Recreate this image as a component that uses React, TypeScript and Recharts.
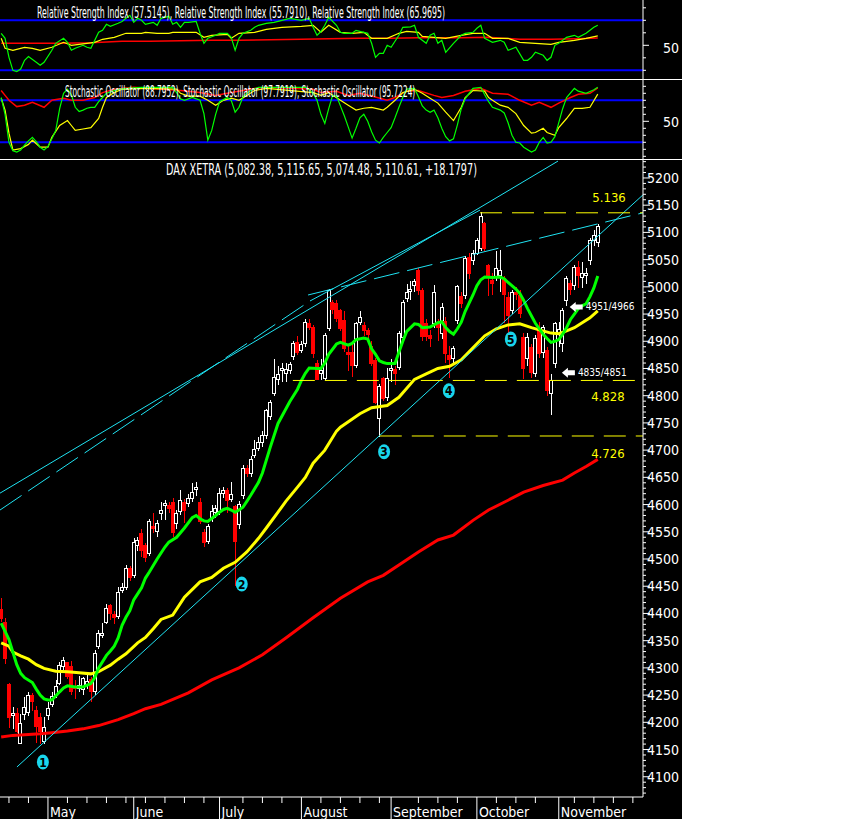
import React, { useLayoutEffect, useRef, useState } from "react";
import {
  Bar,
  ComposedChart,
  Line,
  ReferenceDot,
  ReferenceLine,
  XAxis,
  YAxis,
} from "recharts";

const FONT = "'Liberation Sans Narrow', 'DejaVu Sans Condensed', 'Liberation Sans', sans-serif";
const CYAN = "#1fe3f2";
const GREEN = "#00ff00";
const YELLOW = "#ffff00";
const RED = "#ff0000";
const BLUE = "#0000ff";

// daily bars, index 0 = mid April ... 153 = mid November: [open, high, low, close]
const ohlc: [number, number, number, number][] = [
  [4408, 4428, 4385, 4390], [4384, 4392, 4308, 4318], [4269, 4272, 4190, 4208], [4212, 4228, 4188, 4216],
  [4217, 4226, 4181, 4184], [4162, 4215, 4160, 4197], [4214, 4246, 4205, 4228], [4218, 4256, 4212, 4250],
  [4250, 4254, 4220, 4238], [4222, 4230, 4162, 4192], [4208, 4218, 4160, 4183], [4165, 4210, 4160, 4190],
  [4212, 4238, 4205, 4226], [4232, 4256, 4228, 4248], [4250, 4278, 4245, 4266], [4272, 4310, 4268, 4304],
  [4302, 4320, 4296, 4314], [4310, 4311, 4280, 4285], [4303, 4312, 4250, 4257], [4266, 4278, 4243, 4262],
  [4262, 4285, 4255, 4268], [4260, 4284, 4250, 4280], [4270, 4290, 4262, 4275], [4278, 4283, 4238, 4256],
  [4256, 4333, 4250, 4327], [4340, 4370, 4335, 4364], [4360, 4382, 4355, 4364], [4384, 4417, 4380, 4410],
  [4415, 4418, 4388, 4400], [4398, 4405, 4380, 4393], [4394, 4448, 4390, 4438], [4442, 4456, 4437, 4447],
  [4447, 4489, 4443, 4483], [4482, 4488, 4460, 4466], [4470, 4538, 4466, 4531], [4524, 4540, 4515, 4534],
  [4547, 4555, 4503, 4516], [4525, 4530, 4494, 4502], [4511, 4573, 4505, 4569], [4560, 4584, 4547, 4556],
  [4551, 4571, 4540, 4565], [4584, 4604, 4571, 4590], [4598, 4608, 4572, 4602], [4599, 4605, 4585, 4593],
  [4604, 4612, 4540, 4549], [4566, 4590, 4555, 4584], [4588, 4626, 4580, 4608], [4604, 4610, 4566, 4590],
  [4602, 4620, 4595, 4612], [4612, 4639, 4605, 4623], [4628, 4642, 4615, 4632], [4604, 4612, 4565, 4568],
  [4549, 4555, 4522, 4530], [4533, 4565, 4528, 4560], [4574, 4599, 4568, 4588], [4585, 4600, 4576, 4592],
  [4588, 4630, 4580, 4621], [4621, 4632, 4612, 4625], [4625, 4630, 4585, 4607], [4610, 4641, 4605, 4619],
  [4597, 4600, 4450, 4533], [4564, 4606, 4555, 4601], [4617, 4672, 4610, 4666], [4666, 4672, 4650, 4657],
  [4657, 4690, 4650, 4683], [4690, 4718, 4685, 4701], [4703, 4725, 4698, 4714], [4714, 4735, 4705, 4727],
  [4727, 4775, 4720, 4773], [4762, 4792, 4755, 4788], [4804, 4868, 4800, 4833], [4829, 4855, 4819, 4839],
  [4846, 4860, 4825, 4850], [4840, 4860, 4826, 4848], [4846, 4862, 4840, 4857], [4872, 4900, 4865, 4896],
  [4898, 4910, 4875, 4880], [4883, 4900, 4878, 4894], [4896, 4940, 4890, 4934], [4932, 4940, 4920, 4925],
  [4925, 4930, 4870, 4877], [4859, 4865, 4828, 4830], [4840, 4868, 4828, 4846], [4832, 4915, 4828, 4910],
  [4923, 4996, 4918, 4993], [4972, 4975, 4950, 4958], [4970, 4975, 4935, 4942], [4956, 4960, 4918, 4923],
  [4938, 4956, 4880, 4887], [4879, 4893, 4846, 4876], [4880, 4900, 4835, 4856], [4855, 4935, 4850, 4932],
  [4934, 4955, 4930, 4943], [4929, 4935, 4910, 4920], [4920, 4925, 4905, 4912], [4890, 4900, 4855, 4860],
  [4865, 4870, 4785, 4788], [4758, 4822, 4725, 4817], [4831, 4835, 4790, 4795], [4797, 4850, 4790, 4831],
  [4846, 4868, 4825, 4850], [4848, 4855, 4820, 4840], [4852, 4918, 4848, 4914], [4907, 4975, 4900, 4971],
  [4978, 5005, 4972, 4990], [4991, 5010, 4975, 4995], [5002, 5015, 4990, 5009], [5030, 5035, 4985, 4994],
  [4993, 4997, 4900, 4908], [4932, 4940, 4900, 4908], [4910, 4920, 4890, 4905], [4932, 5003, 4925, 4989],
  [4930, 4940, 4900, 4925], [4914, 4971, 4905, 4962], [4936, 4945, 4860, 4877], [4874, 4892, 4832, 4866],
  [4868, 4892, 4860, 4886], [4938, 5003, 4932, 5000], [4983, 4990, 4962, 4970], [4984, 5057, 4978, 5052],
  [5053, 5062, 5015, 5024], [5048, 5068, 5040, 5061], [5062, 5090, 5058, 5085], [5070, 5138, 5065, 5130],
  [5116, 5120, 5065, 5070], [5039, 5042, 4983, 5017], [5012, 5025, 4985, 5007], [5017, 5065, 5010, 5033],
  [5020, 5068, 4990, 5030], [5015, 5020, 4934, 4985], [4980, 4990, 4915, 4947], [4956, 4995, 4950, 4989],
  [4990, 5000, 4975, 4985], [4984, 4995, 4942, 4951], [4907, 4915, 4830, 4850], [4868, 4915, 4855, 4907],
  [4888, 4895, 4832, 4843], [4841, 4912, 4835, 4905], [4920, 4935, 4870, 4877], [4879, 4930, 4870, 4925],
  [4883, 4890, 4800, 4810], [4804, 4840, 4764, 4828], [4859, 4935, 4850, 4932], [4915, 4935, 4890, 4922],
  [4896, 4962, 4880, 4956], [4975, 5020, 4965, 5015], [5007, 5012, 4985, 4996], [5002, 5040, 4995, 5035],
  [5035, 5048, 4998, 5020], [5017, 5045, 4997, 5024], [5020, 5035, 5005, 5025], [5048, 5090, 5040, 5085],
  [5085, 5105, 5075, 5094], [5082, 5116, 5074, 5111],
];

// moving averages: [bar index, value]
const maFast: [number, number][] = [
  [0, 4382], [2, 4352], [4, 4306], [5, 4290], [6, 4282], [8, 4273], [9, 4261], [10, 4250], [11, 4243], [12, 4241],
  [13, 4241], [15, 4256], [16, 4263], [17, 4267], [19, 4265], [21, 4265], [23, 4271], [24, 4282], [25, 4300], [27, 4323],
  [28, 4331], [29, 4340], [30, 4355], [31, 4378], [32, 4393], [33, 4405], [34, 4425], [35, 4436], [36, 4447], [37, 4465],
  [38, 4476], [40, 4500], [42, 4522], [43, 4531], [45, 4540], [47, 4557], [49, 4576], [50, 4580], [51, 4574], [52, 4570],
  [53, 4569], [55, 4580], [56, 4586], [57, 4591], [58, 4593], [59, 4590], [60, 4586], [61, 4590], [62, 4595], [63, 4606],
  [64, 4617], [66, 4641], [67, 4658], [69, 4705], [71, 4749], [74, 4789], [76, 4812], [77, 4828], [78, 4841], [79, 4851],
  [81, 4850], [82, 4850], [83, 4860], [84, 4876], [86, 4895], [87, 4898], [89, 4893], [90, 4896], [91, 4903], [93, 4906],
  [94, 4904], [95, 4886], [96, 4876], [97, 4864], [98, 4861], [99, 4859], [101, 4859], [102, 4880], [103, 4900], [104, 4918],
  [106, 4932], [107, 4931], [108, 4925], [110, 4926], [112, 4934], [113, 4936], [114, 4925], [115, 4918], [116, 4913], [117, 4923],
  [118, 4935], [119, 4955], [120, 4970], [121, 4985], [122, 5002], [123, 5013], [124, 5018], [126, 5017], [128, 5018], [129, 5015],
  [130, 5008], [132, 4996], [133, 4988], [134, 4975], [135, 4960], [137, 4933], [138, 4923], [139, 4913], [140, 4905], [141, 4898],
  [142, 4900], [143, 4903], [144, 4913], [145, 4925], [146, 4940], [147, 4950], [148, 4960], [149, 4965], [150, 4969], [151, 4982],
  [152, 4998], [153, 5020],
];

const maMid: [number, number][] = [
  [0, 4346], [2, 4340], [3, 4329], [5, 4322], [7, 4316], [9, 4306], [11, 4299], [14, 4294], [17, 4293], [20, 4291],
  [23, 4289], [25, 4293], [28, 4305], [30, 4316], [32, 4326], [35, 4346], [37, 4356], [39, 4372], [41, 4389], [44, 4397],
  [47, 4430], [51, 4458], [54, 4466], [57, 4483], [60, 4494], [63, 4513], [66, 4538], [68, 4557], [71, 4586], [73, 4606],
  [76, 4632], [78, 4650], [80, 4676], [83, 4700], [86, 4735], [87, 4742], [92, 4767], [95, 4778], [99, 4782], [102, 4797],
  [106, 4830], [109, 4840], [112, 4850], [115, 4854], [118, 4866], [121, 4888], [124, 4910], [127, 4923], [130, 4930], [133, 4932],
  [136, 4925], [138, 4921], [141, 4915], [143, 4914], [145, 4919], [147, 4925], [149, 4934], [151, 4943], [153, 4956],
];

const maSlow: [number, number][] = [
  [0, 4173], [3, 4176], [10, 4179], [13, 4181], [17, 4184], [21, 4188], [25, 4194], [30, 4205], [34, 4216], [37, 4225],
  [41, 4233], [48, 4254], [54, 4278], [61, 4300], [67, 4324], [73, 4355], [80, 4392], [87, 4428], [94, 4458], [98, 4470],
  [102, 4489], [107, 4513], [112, 4535], [116, 4544], [121, 4571], [125, 4590], [130, 4608], [134, 4623], [139, 4635], [144, 4645],
  [147, 4658], [150, 4670], [153, 4683],
];

const rsiFast: [number, number][] = [
  [0, 59.6], [1, 55.6], [2, 40.4], [3, 30], [4, 29], [5, 31], [6, 38], [7, 41], [9, 36.4], [10, 34], [11, 36.4], [13, 46],
  [14, 51.6], [16, 55.6], [17, 52.4], [18, 46], [19, 47.6], [21, 50], [22, 48.4], [23, 47.6], [25, 60.4], [26, 62], [27, 66.8],
  [28, 65.2], [30, 67.6], [31, 69], [32, 71.6], [33, 74], [34, 68.4], [35, 71.6], [36, 70], [37, 66.8], [39, 68.4], [40, 66],
  [41, 71.6], [42, 72.4], [43, 73.2], [44, 66.8], [45, 68.4], [46, 64.4], [47, 68.4], [48, 68.4], [50, 69.2], [51, 59.6],
  [52, 51.6], [53, 55.6], [55, 58], [56, 59.6], [58, 59.6], [59, 56.4], [60, 46], [61, 55.6], [62, 59.6], [64, 62], [65, 64.4],
  [66, 66], [68, 67.6], [70, 68.4], [72, 70], [74, 71.6], [77, 70], [79, 71.6], [80, 64.4], [81, 58], [82, 61], [83, 66],
  [84, 72.4], [86, 66], [87, 60.4], [88, 59.6], [90, 59.6], [91, 62], [93, 60.4], [94, 59.6], [95, 51.6], [96, 40.4], [97, 43.6],
  [98, 43.6], [99, 50], [100, 48.4], [102, 58], [103, 64.4], [105, 64.8], [106, 66], [107, 56.4], [109, 51.6], [110, 58],
  [111, 59.6], [112, 51.6], [113, 54], [114, 44.4], [116, 51.6], [118, 58], [119, 59.6], [121, 60.4], [122, 63.6], [123, 66],
  [124, 55.6], [126, 52.4], [128, 54], [129, 52.4], [130, 46], [132, 48.4], [134, 38], [135, 38], [136, 40.4], [137, 44.4],
  [139, 42], [140, 38], [141, 40.4], [142, 50], [143, 51.6], [145, 56.4], [147, 58], [148, 56.4], [150, 59.6], [152, 64.4], [153, 66],
];

const rsiMid: [number, number][] = [
  [0, 55.6], [1, 47.6], [3, 46], [6, 48.4], [8, 47.6], [10, 46], [13, 48.4], [16, 52.4], [18, 50], [22, 51.6], [24, 52.4],
  [26, 54.8], [29, 56.4], [32, 59.6], [36, 59.6], [37, 60.4], [40, 59.6], [43, 59.6], [44, 60.4], [48, 60.4], [50, 60.4],
  [52, 56.4], [54, 58], [58, 58.8], [59, 55.6], [61, 59.6], [65, 60.4], [68, 62.8], [72, 64.4], [77, 65.2], [80, 66], [82, 60.4],
  [84, 66], [87, 60.4], [90, 59.6], [93, 60.4], [95, 55.6], [99, 55.6], [102, 59.6], [104, 61.2], [107, 60.4], [108, 57.2],
  [111, 56.4], [114, 55.6], [118, 58], [121, 59.6], [124, 59.6], [126, 55.6], [130, 55.6], [133, 52.4], [137, 51.6], [141, 50.8],
  [143, 52.4], [147, 54], [150, 55.6], [153, 57.5],
];

const rsiSlow: [number, number][] = [
  [0, 51.6], [8, 51.6], [15, 51.6], [23, 52], [31, 53.2], [38, 53.2], [46, 53.6], [54, 54], [61, 54], [69, 54.4], [77, 54.8],
  [84, 55.2], [92, 55.6], [100, 55.6], [107, 56], [118, 56], [125, 56.4], [133, 54.8], [141, 54.8], [148, 55.2], [153, 55.8],
];

const stochFast: [number, number][] = [
  [0, 84], [1, 60], [2, 20], [3, 8], [4, 6], [5, 9], [6, 16], [7, 22], [8, 27], [9, 21], [10, 13], [11, 9], [12, 14], [13, 25],
  [14, 37], [15, 68], [16, 90], [17, 96], [18, 88], [19, 70], [20, 64], [21, 66], [22, 68.6], [23, 70], [24, 70], [25, 78],
  [26, 84], [27, 90], [28, 92], [30, 95.7], [33, 97.5], [36, 98.6], [44, 98.6], [45, 91], [46, 82], [47, 80], [49, 84], [51, 80],
  [52, 61], [53, 23], [54, 37], [55, 60], [56, 78], [57, 81], [58, 84], [59, 80], [60, 63], [61, 70], [62, 85], [63, 90],
  [64, 94], [66, 98.6], [78, 98.6], [79, 95], [80, 90], [81, 80], [82, 60], [83, 47], [84, 68], [85, 87], [86, 86], [87, 72],
  [88, 58], [89, 42], [90, 26], [91, 40], [92, 55], [93, 60], [94, 50], [95, 35], [96, 23], [97, 19], [98, 27], [99, 34],
  [100, 41], [101, 55], [102, 70], [103, 84], [104, 96], [106, 97], [107, 85], [108, 72], [109, 66], [110, 63], [111, 66],
  [112, 55], [113, 40], [114, 28], [115, 22], [116, 25], [117, 45], [118, 68], [119, 82], [120, 90], [121, 97], [123, 98.6],
  [124, 88], [125, 78], [126, 70], [128, 66], [129, 62], [130, 48], [131, 30], [132, 20], [133, 19], [134, 13], [136, 6],
  [137, 9], [138, 20], [139, 27], [140, 19], [141, 20], [142, 28], [143, 48], [144, 68], [145, 84], [147, 97], [148, 93],
  [150, 90], [152, 95], [153, 98.6],
];

const stochMid: [number, number][] = [
  [0, 83], [1, 66], [2, 33], [3, 9], [5, 11], [7, 17], [8, 23], [10, 13], [12, 13], [13, 27], [15, 44], [17, 51], [18, 44],
  [19, 37], [21, 39], [23, 41], [25, 54], [26, 70], [27, 84], [29, 91], [31, 95.7], [36, 97], [45, 96], [46, 90], [48, 86],
  [51, 86], [53, 80], [55, 73], [57, 80], [59, 83], [61, 80], [63, 87], [65, 94], [68, 97], [80, 91], [82, 87], [84, 91],
  [87, 80], [89, 73], [91, 66], [93, 68.6], [95, 70], [98, 66], [99, 70], [101, 80], [103, 91], [106, 95.7], [108, 90],
  [110, 83], [112, 76], [114, 63], [116, 51], [118, 70], [119, 84], [121, 94], [124, 93], [125, 84], [126, 80], [128, 73],
  [130, 70], [132, 61], [134, 44], [136, 33], [137, 34], [139, 40], [140, 34], [142, 30], [143, 41], [145, 54], [147, 68.6],
  [149, 68.6], [151, 70], [153, 88.8],
];

const stochSlow: [number, number][] = [
  [0, 94], [1, 87], [2, 80], [4, 71], [6, 73], [8, 77], [11, 70], [13, 80], [16, 83], [18, 80], [21, 80], [24, 84], [26, 91],
  [29, 95.7], [34, 98.6], [46, 94], [51, 91], [55, 87], [59, 91], [65, 97], [68, 98.6], [80, 95.7], [82, 91], [86, 93], [89, 87],
  [92, 90], [95, 86], [99, 80], [101, 84], [104, 93], [107, 94], [111, 87], [113, 84], [116, 87], [119, 93], [123, 97], [126, 90],
  [130, 88.6], [133, 80], [136, 73], [138, 77], [141, 70], [143, 76], [146, 84], [148, 88.6], [151, 90], [153, 97.8],
];

// panel titles: [text, left x, baseline y, width]
const titles: [string, number, number, number][] = [
  ["Relative Strength Index (57.5145), Relative Strength Index (55.7910), Relative Strength Index (65.9695)", 37, 18, 408],
  ["Stochastic Oscillator (88.7952), Stochastic Oscillator (97.7919), Stochastic Oscillator (95.7224)", 65, 97, 350],
  ["DAX XETRA (5,082.38, 5,115.65, 5,074.48, 5,110.61, +18.1797)", 166, 175, 311],
];

// x axis
const monthStarts = [12, 34, 56, 77, 100, 122, 143];
const monthNames = ["May", "June", "July", "August", "September", "October", "November"];
const weekTicks = [2, 7, 17, 22, 27, 32, 37, 42, 47, 52, 62, 67, 72, 82, 87, 92, 97, 107, 112, 117, 127, 132, 137, 147, 152, 157, 162];

// drawn annotations: [bar index, price]
const trendLines: { from: [number, number]; to: [number, number]; dashed?: boolean }[] = [
  { from: [-0.3, 4621], to: [142.8, 5231] },
  { from: [-0.3, 4590], to: [79.2, 4974], dashed: true },
  { from: [79.2, 4974], to: [122.8, 5141] },
  { from: [78.7, 4985], to: [164.6, 5136], dashed: true },
  { from: [4.05, 4118], to: [164.6, 5169] },
];
const levels: { from: number; price: number; label: string }[] = [
  { from: 122.8, price: 5136, label: "5.136" },
  { from: 74.8, price: 4828, label: "4.828" },
  { from: 97.1, price: 4726, label: "4.726" },
];
const levelLabelPos: [number, number][] = [[155.9, 5165], [155.6, 4799], [155.6, 4695]];
const waves: { i: number; p: number; n: string }[] = [
  { i: 10.7, p: 4127, n: "1" },
  { i: 61.7, p: 4454, n: "2" },
  { i: 98.2, p: 4697, n: "3" },
  { i: 114.8, p: 4809, n: "4" },
  { i: 130.7, p: 4904, n: "5" },
];
const arrows: { i: number; p: number; text: string }[] = [
  { i: 145.8, p: 4963, text: "4951/4966" },
  { i: 143.8, p: 4842, text: "4835/4851" },
];

const X_DOMAIN: [number, number] = [-0.3, 164.6];
const BARS = ohlc.length;

function buildRows(series: Record<string, [number, number][]>) {
  const rows: Record<string, number>[] = [];
  for (let i = 0; i < BARS; i++) rows.push({ i });
  Object.entries(series).forEach(([key, pts]) => {
    pts.forEach(([i, v]) => {
      rows[i][key] = v;
    });
  });
  return rows;
}

const mainRows = buildRows({ fast: maFast, mid: maMid, slow: maSlow }).map((r, i) => ({
  ...r,
  o: ohlc[i][0],
  h: ohlc[i][1],
  l: ohlc[i][2],
  c: ohlc[i][3],
}));
const rsiRows = buildRows({ fast: rsiFast, mid: rsiMid, slow: rsiSlow });
const stochRows = buildRows({ fast: stochFast, mid: stochMid, slow: stochSlow });

const priceTicks: number[] = [];
for (let v = 4070; v <= 5230; v += 10) priceTicks.push(v);
const xTicks = [...monthStarts, ...weekTicks].sort((a, b) => a - b);

function Candle(props: any) {
  const { x, y, width, height, payload } = props;
  if (!payload) return null;
  const { o, h, l, c } = payload;
  const top = Math.min(y, y + height);
  const span = Math.abs(height);
  const k = h > l ? span / (h - l) : 0;
  const py = (v: number) => top + (h - v) * k;
  const cx = Math.round(x + width / 2) + 0.5;
  const up = c >= o;
  const col = up ? "#ffffff" : RED;
  const bt = py(Math.max(o, c));
  const bb = py(Math.min(o, c));
  return (
    <g shapeRendering="crispEdges">
      <line x1={cx} x2={cx} y1={py(h)} y2={py(l)} stroke={col} strokeWidth={1} />
      <rect
        x={cx - 2}
        y={bt}
        width={3}
        height={Math.max(bb - bt, 1)}
        fill={up ? "#000000" : RED}
        stroke={col}
        strokeWidth={1}
      />
    </g>
  );
}

function makeValueTick(majorValue: (v: number) => boolean, labelDy: number, majorLen: number) {
  return function ValueTick(props: any) {
    const { x, y, payload } = props;
    const v = payload.value;
    const major = majorValue(v);
    return (
      <g>
        <line x1={x} x2={x + (major ? majorLen : 3)} y1={y} y2={y} stroke="#ffffff" strokeWidth={1} />
        {major && (
          <text x={679} y={y + labelDy} textAnchor="end" fill="#ffffff" fontSize={14} fontFamily={FONT}>
            {v}
          </text>
        )}
      </g>
    );
  };
}

const PriceTick = makeValueTick((v) => v % 50 === 0 && v >= 4100 && v <= 5200, 5, 7);
const RsiTick = makeValueTick((v) => v === 50, 8, 6);
const StochTick = makeValueTick((v) => v === 50, 6, 6);

function TimeTick(props: any) {
  const { x, y, payload } = props;
  const m = monthStarts.indexOf(payload.value);
  if (m >= 0) {
    return (
      <g>
        <line x1={x} x2={x} y1={y} y2={y + 22} stroke="#ffffff" strokeWidth={1} />
        <text x={x + 2} y={y + 20} fill="#ffffff" fontSize={14} fontFamily={FONT}>
          {monthNames[m]}
        </text>
      </g>
    );
  }
  return <line x1={x} x2={x} y1={y} y2={y + 6} stroke="#ffffff" strokeWidth={1} />;
}

function Badge(props: any) {
  const { cx, cy, n } = props;
  return (
    <g>
      <ellipse cx={cx} cy={cy} rx={6} ry={7.5} fill="#19d6ec" />
      <text x={cx} y={cy + 4.5} textAnchor="middle" fontSize={12} fontWeight="bold" fill="#000000" fontFamily="'DejaVu Sans Condensed', 'DejaVu Sans'">
        {n}
      </text>
    </g>
  );
}

function Arrow(props: any) {
  const { cx, cy, text } = props;
  const pts = [
    [cx, cy],
    [cx + 6, cy - 5],
    [cx + 6, cy - 2.5],
    [cx + 13, cy - 2.5],
    [cx + 13, cy + 2.5],
    [cx + 6, cy + 2.5],
    [cx + 6, cy + 5],
  ]
    .map((p) => p.join(","))
    .join(" ");
  return (
    <g>
      <polygon points={pts} fill="#ffffff" />
      <text x={cx + 16} y={cy + 3.5} fontSize={10} fill="#ffffff" fontFamily={FONT}>
        {text}
      </text>
    </g>
  );
}

function LevelLabel(props: any) {
  const { cx, cy, text } = props;
  return (
    <text x={cx} y={cy + 5} textAnchor="middle" fontSize={13} fill={YELLOW} fontFamily={FONT}>
      {text}
    </text>
  );
}

// squeezes a title horizontally to the width it has in the picture
function FitText({ text, x, y, width }: { text: string; x: number; y: number; width: number }) {
  const ref = useRef<SVGTextElement>(null);
  const [sx, setSx] = useState(0.7);
  useLayoutEffect(() => {
    const len = ref.current ? ref.current.getComputedTextLength() : 0;
    if (len > 0) setSx(width / len);
  }, [text, width]);
  return (
    <g transform={`translate(${x},${y}) scale(${sx},1)`}>
      <text ref={ref} x={0} y={0} fontSize={15} fill="#ffffff" fontFamily={FONT}>
        {text}
      </text>
    </g>
  );
}

function oscLines() {
  return [
    <Line key="s" dataKey="slow" stroke={RED} strokeWidth={1.5} dot={false} activeDot={false} connectNulls isAnimationActive={false} />,
    <Line key="m" dataKey="mid" stroke={YELLOW} strokeWidth={1.2} dot={false} activeDot={false} connectNulls isAnimationActive={false} />,
    <Line key="f" dataKey="fast" stroke={GREEN} strokeWidth={1.2} dot={false} activeDot={false} connectNulls isAnimationActive={false} />,
  ];
}

export default function App() {
  const margin = { top: 0, right: 0, bottom: 0, left: 0 };
  return (
    <div style={{ position: "absolute", left: 0, top: 0, width: 866, height: 819, background: "#ffffff", overflow: "hidden" }}>
      <div style={{ position: "absolute", left: 0, top: 0, width: 682, height: 819, background: "#000000" }} />

      <div style={{ position: "absolute", left: 0, top: 0 }}>
        <ComposedChart width={682} height={79} data={rsiRows} margin={margin}>
          <XAxis type="number" dataKey="i" domain={X_DOMAIN} allowDataOverflow hide />
          <YAxis
            orientation="right"
            width={39}
            domain={[23.04, 86.24]}
            allowDataOverflow
            ticks={[30, 40, 50, 60, 70, 80]}
            interval={0}
            tick={<RsiTick />}
            tickLine={false}
            tickSize={0}
            tickMargin={0}
            axisLine={{ stroke: "#ffffff" }}
          />
          <ReferenceLine y={70} stroke={BLUE} strokeWidth={2} />
          <ReferenceLine y={30} stroke={BLUE} strokeWidth={2} />
          {oscLines()}
        </ComposedChart>
      </div>

      <div style={{ position: "absolute", left: 0, top: 80 }}>
        <ComposedChart width={682} height={79} data={stochRows} margin={margin}>
          <XAxis type="number" dataKey="i" domain={X_DOMAIN} allowDataOverflow hide />
          <YAxis
            orientation="right"
            width={39}
            domain={[-3.86, 109]}
            allowDataOverflow
            ticks={[0, 10, 20, 30, 40, 50, 60, 70, 80, 90, 100]}
            interval={0}
            tick={<StochTick />}
            tickLine={false}
            tickSize={0}
            tickMargin={0}
            axisLine={{ stroke: "#ffffff" }}
          />
          <ReferenceLine y={80} stroke={BLUE} strokeWidth={2} />
          <ReferenceLine y={20} stroke={BLUE} strokeWidth={2} />
          {oscLines()}
        </ComposedChart>
      </div>

      <div style={{ position: "absolute", left: 0, top: 160 }}>
        <ComposedChart width={682} height={659} data={mainRows} margin={margin}>
          <XAxis
            type="number"
            dataKey="i"
            domain={X_DOMAIN}
            allowDataOverflow
            height={22}
            ticks={xTicks}
            interval={0}
            tick={<TimeTick />}
            tickLine={false}
            tickSize={0}
            tickMargin={0}
            axisLine={{ stroke: "#ffffff" }}
          />
          <YAxis
            orientation="right"
            width={39}
            domain={[4062.8, 5233]}
            allowDataOverflow
            ticks={priceTicks}
            interval={0}
            tick={<PriceTick />}
            tickLine={false}
            tickSize={0}
            tickMargin={0}
            axisLine={{ stroke: "#ffffff" }}
          />
          <Bar dataKey={(d: any) => [d.l, d.h]} barSize={4} shape={<Candle />} isAnimationActive={false} />
          <Line dataKey="slow" stroke={RED} strokeWidth={3} dot={false} activeDot={false} connectNulls isAnimationActive={false} />
          <Line dataKey="mid" stroke={YELLOW} strokeWidth={3} dot={false} activeDot={false} connectNulls isAnimationActive={false} />
          <Line dataKey="fast" stroke={GREEN} strokeWidth={3} dot={false} activeDot={false} connectNulls isAnimationActive={false} />
          {trendLines.map((t, k) => (
            <ReferenceLine
              key={`t${k}`}
              segment={[
                { x: t.from[0], y: t.from[1] },
                { x: t.to[0], y: t.to[1] },
              ]}
              stroke={CYAN}
              strokeWidth={1}
              strokeDasharray={t.dashed ? "26 8" : undefined}
              ifOverflow="hidden"
            />
          ))}
          {levels.map((lv, k) => (
            <ReferenceLine
              key={`l${k}`}
              segment={[
                { x: lv.from, y: lv.price },
                { x: X_DOMAIN[1], y: lv.price },
              ]}
              stroke={YELLOW}
              strokeWidth={1}
              strokeDasharray="22 10"
              ifOverflow="hidden"
            />
          ))}
          {levels.map((lv, k) => (
            <ReferenceDot
              key={`ll${k}`}
              x={levelLabelPos[k][0]}
              y={levelLabelPos[k][1]}
              r={0}
              shape={(p: any) => <LevelLabel {...p} text={lv.label} />}
            />
          ))}
          {waves.map((w) => (
            <ReferenceDot key={`w${w.n}`} x={w.i} y={w.p} r={6} shape={(p: any) => <Badge {...p} n={w.n} />} />
          ))}
          {arrows.map((a) => (
            <ReferenceDot key={a.text} x={a.i} y={a.p} r={5} shape={(p: any) => <Arrow {...p} text={a.text} />} />
          ))}
        </ComposedChart>
      </div>

      <div style={{ position: "absolute", left: 0, top: 79, width: 682, height: 1, background: "#ffffff" }} />
      <div style={{ position: "absolute", left: 0, top: 159, width: 682, height: 1, background: "#ffffff" }} />

      <svg width={682} height={200} style={{ position: "absolute", left: 0, top: 0, pointerEvents: "none" }}>
        {titles.map(([t, x, y, w]) => (
          <FitText key={t} text={t} x={x} y={y} width={w} />
        ))}
      </svg>
    </div>
  );
}
